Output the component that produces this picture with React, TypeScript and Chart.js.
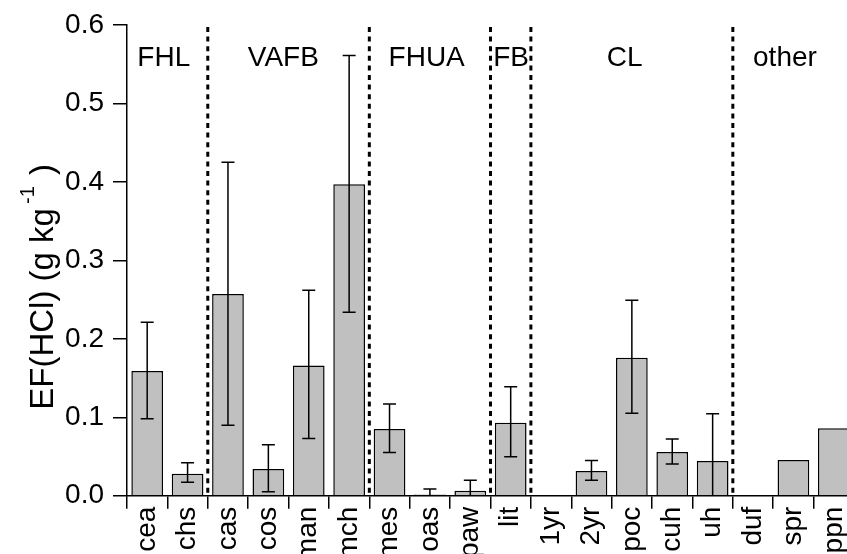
import React, { useEffect, useRef } from 'react';
import { Chart, registerables } from 'chart.js';

Chart.register(...registerables);

const categories = ['cea', 'chs', 'cas', 'cos', 'man', 'mch', 'mes', 'oas', 'paw', 'lit', '1yr', '2yr', 'poc', 'cuh', 'uh', 'duf', 'spr', 'ppn'];
const values = [0.159, 0.028, 0.257, 0.034, 0.166, 0.397, 0.085, 0.0015, 0.0064, 0.093, null, 0.0315, 0.176, 0.0557, 0.0442, null, 0.0455, 0.086];
const errHigh = [0.221, 0.042, 0.425, 0.065, 0.262, 0.561, 0.117, 0.0085, 0.0196, 0.139, null, 0.045, 0.249, 0.0723, 0.1045, null, null, null];
const errLow = [0.098, 0.017, 0.0897, 0.005, 0.073, 0.234, 0.055, -0.006, -0.007, 0.0497, null, 0.0196, 0.105, 0.0404, -0.02, null, null, null];

const groupNames = ['FHL', 'VAFB', 'FHUA', 'FB', 'CL', 'other'];
const groupCenters = [0.41, 3.37, 6.92, 9.01, 11.82, 15.79];
const groupBoundaries = [1.5, 5.5, 8.5, 9.5, 14.5];
const groupLabelValue = 0.558;

const yMin = 0;
const yMax = 0.6;
const yStep = 0.1;

const yTitleMain = 'EF(HCl) (g kg';
const yTitleSup = '-1';
const yTitleEnd = ' )';

const FONT = '"Liberation Sans", Arial, Helvetica, sans-serif';

const overlayPlugin = {
  id: 'overlay',
  afterDatasetsDraw(chart: any) {
    const { ctx } = chart;
    const xs = chart.scales.x;
    const ys = chart.scales.y;
    const x0 = xs.getPixelForValue(0);
    const step = xs.getPixelForValue(1) - x0;
    const px = (v: number) => x0 + v * step;
    ctx.save();
    // error bars
    ctx.strokeStyle = '#000';
    ctx.lineWidth = 1.5;
    const capHalf = 6.5;
    for (let i = 0; i < categories.length; i++) {
      const hi = errHigh[i];
      const lo = errLow[i];
      if (hi == null || lo == null) continue;
      const cx = xs.getPixelForValue(i);
      const yT = ys.getPixelForValue(hi);
      const yB = ys.getPixelForValue(Math.max(lo, 0));
      ctx.beginPath();
      ctx.moveTo(cx, yT);
      ctx.lineTo(cx, yB);
      ctx.moveTo(cx - capHalf, yT);
      ctx.lineTo(cx + capHalf, yT);
      if (lo > 0) {
        ctx.moveTo(cx - capHalf, yB);
        ctx.lineTo(cx + capHalf, yB);
      }
      ctx.stroke();
    }
    // dotted separators
    ctx.lineWidth = 3;
    ctx.setLineDash([5, 4.6]);
    for (const b of groupBoundaries) {
      const bx = px(b);
      ctx.beginPath();
      ctx.moveTo(bx, ys.getPixelForValue(yMax) + 2);
      ctx.lineTo(bx, ys.getPixelForValue(0));
      ctx.stroke();
    }
    ctx.setLineDash([]);
    // group labels
    ctx.fillStyle = '#000';
    ctx.font = `28px ${FONT}`;
    ctx.textAlign = 'center';
    ctx.textBaseline = 'middle';
    const gy = ys.getPixelForValue(groupLabelValue);
    groupNames.forEach((n, i) => ctx.fillText(n, px(groupCenters[i]), gy));
    ctx.restore();
  },
  afterDraw(chart: any) {
    const { ctx, chartArea } = chart;
    ctx.save();
    ctx.fillStyle = '#000';
    ctx.translate(chartArea.left - 74, chartArea.bottom - 86);
    ctx.rotate(-Math.PI / 2);
    ctx.textAlign = 'left';
    ctx.textBaseline = 'alphabetic';
    ctx.font = `33px ${FONT}`;
    ctx.fillText(yTitleMain, 0, 0);
    let w = ctx.measureText(yTitleMain).width + 4;
    ctx.font = `20px ${FONT}`;
    ctx.fillText(yTitleSup, w, -19);
    w += ctx.measureText(yTitleSup).width + 2;
    ctx.font = `33px ${FONT}`;
    ctx.fillText(yTitleEnd, w, 0);
    ctx.restore();
  },
};

export default function App() {
  const ref = useRef<HTMLCanvasElement | null>(null);
  useEffect(() => {
    if (!ref.current) return;
    const chart = new Chart(ref.current, {
      type: 'bar',
      data: {
        labels: categories,
        datasets: [
          {
            data: values as any,
            backgroundColor: '#c0c0c0',
            borderColor: '#000',
            borderWidth: 1.5,
            barPercentage: 0.785,
            categoryPercentage: 1,
          },
        ],
      },
      options: {
        animation: false,
        responsive: false,
        devicePixelRatio: 1,
        layout: { padding: { left: 0, top: 25, right: 0, bottom: 0 } },
        plugins: { legend: { display: false }, tooltip: { enabled: false } },
        scales: {
          x: {
            grid: { drawOnChartArea: false, tickLength: 13, color: '#000', lineWidth: 1.5 },
            border: { color: '#000', width: 1.5 },
            ticks: {
              autoSkip: false,
              maxRotation: 90,
              minRotation: 90,
              padding: -2,
              color: '#000',
              font: { family: FONT, size: 28 },
            },
            afterFit(scale: any) {
              scale.height = 104.3;
              scale.paddingLeft = 0;
              scale.paddingRight = 0;
            },
          },
          y: {
            min: yMin,
            max: yMax,
            grid: { drawOnChartArea: false, tickLength: 14, color: '#000', lineWidth: 1.5 },
            border: { color: '#000', width: 1.5 },
            ticks: {
              stepSize: yStep,
              padding: 9,
              color: '#000',
              font: { family: FONT, size: 28 },
              callback: (v: any) => Number(v).toFixed(1),
            },
            afterFit(scale: any) {
              scale.width = 127;
              scale.paddingTop = 0;
              scale.paddingBottom = 0;
            },
          },
        },
      },
      plugins: [overlayPlugin],
    });
    return () => chart.destroy();
  }, []);
  return (
    <div style={{ position: 'fixed', left: 0, top: 0, width: 847, height: 554, overflow: 'hidden', background: '#fff' }}>
      <canvas ref={ref} width={854} height={600} style={{ display: 'block', width: 854, height: 600 }} />
    </div>
  );
}
